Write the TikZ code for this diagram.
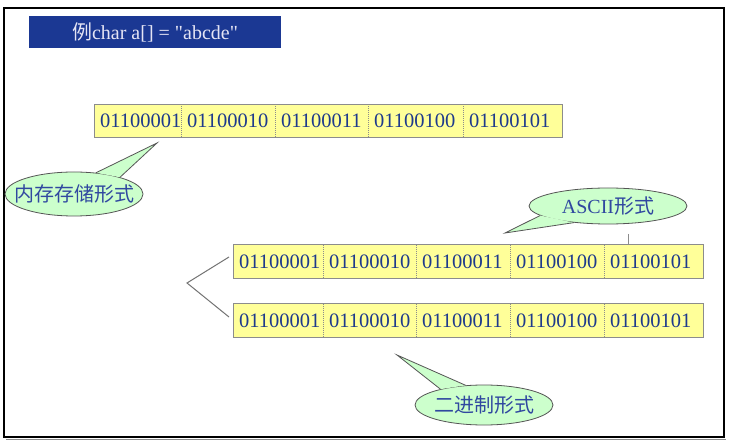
\documentclass[tikz,border=0pt]{standalone}
\usepackage{fontspec}
\setmainfont{Liberation Serif}
\newfontfamily\cjk{Noto Sans CJK SC}
\usetikzlibrary{shapes.geometric,backgrounds}
\definecolor{titlebg}{HTML}{1B3893}
\definecolor{titletx}{HTML}{E4E4F4}
\definecolor{cellfill}{HTML}{FFFF99}
\definecolor{cellline}{HTML}{8C8C8C}
\definecolor{numtx}{HTML}{1E3A8C}
\definecolor{callfill}{HTML}{CCFFCC}
\definecolor{callline}{HTML}{555555}
\definecolor{calltx}{HTML}{3048A0}
\begin{document}
\begin{tikzpicture}[x=1pt,y=-1pt,
  cell/.style={rectangle, fill=cellfill, anchor=west, minimum height=33pt,
    inner xsep=6pt, inner ysep=0pt, align=left,
    font=\fontsize{20.5}{22}\selectfont, text=numtx},
  rowline/.style={draw=cellline, line width=0.8pt},
  divline/.style={draw=cellline, line width=0.5pt, dash pattern=on 1pt off 1pt},
  rowshadow/.style={fill=black!22},
  callout/.style={ellipse, draw=callline, fill=callfill, line width=0.8pt,
    inner sep=0pt, text=calltx, font=\fontsize{20}{22}\selectfont},
  tailfill/.style={fill=callfill},
  tailline/.style={draw=callline, line width=0.8pt, line join=miter},
  branch/.style={draw=black!55, line width=1pt},
  titlebox/.style={rectangle, fill=titlebg, text=titletx, inner sep=0pt,
    minimum width=252pt, minimum height=32pt, font=\fontsize{20}{22}\selectfont}
]
\useasboundingbox (0,0) rectangle (733,443);
\fill[white] (0,0) rectangle (733,443);
% frame
\draw[black!45, line width=1pt] (6,439.5) -- (726,439.5);
\draw[black, line width=1.3pt] (4,8) rectangle (724,437);

% title
\node[titlebox] (title) at (155,32) {{\cjk 例}char a[] = \textquotedbl abcde\textquotedbl};

% top row (memory)
\foreach \i/\x/\w/\t in {1/94/87/01100001, 2/181/94/01100010, 3/275/93/01100011, 4/368/95/01100100, 5/463/99/01100101}{
  \pgfmathsetmacro\tw{\w-12}
  \node[cell, minimum width=\w pt, text width=\tw pt] (a\i) at (\x,121) {\t};
}
% ASCII row
\foreach \i/\x/\w/\t in {1/233/90/01100001, 2/323/93/01100010, 3/416/94/01100011, 4/510/94/01100100, 5/604/99/01100101}{
  \pgfmathsetmacro\tw{\w-12}
  \node[cell, minimum width=\w pt, text width=\tw pt] (b\i) at (\x,261.5) {\t};
}
% binary row
\foreach \i/\x/\w/\t in {1/233/90/01100001, 2/323/93/01100010, 3/416/94/01100011, 4/510/94/01100100, 5/604/99/01100101}{
  \pgfmathsetmacro\tw{\w-12}
  \node[cell, minimum width=\w pt, text width=\tw pt] (c\i) at (\x,320.5) {\t};
}
\begin{scope}[on background layer]
  \foreach \r in {a,b,c}{
    \fill[rowshadow] ([shift={(1.5,1.5)}]\r1.north west) rectangle ([shift={(1.5,1.5)}]\r5.south east);
  }
\end{scope}
\foreach \r in {a,b,c}{
  \draw[rowline] (\r1.north west) rectangle (\r5.south east);
  \foreach \i in {2,...,5}{
    \draw[divline] (\r\i.north west) -- (\r\i.south west);
  }
}

% branch
\coordinate (apex) at (187,283);
\coordinate (bup) at (229,257);
\coordinate (bdn) at (229,317);
\draw[branch] (bup) -- (apex) -- (bdn);

% tick above ASCII row
\coordinate (tick) at (628,234);
\draw[black!45, line width=0.6pt] (tick) -- (tick |- b5.north);

% callout: memory
\node[callout, minimum width=138pt, minimum height=44pt] (mem) at (74,194) {\makebox[0pt]{\cjk 内存存储形式}};
\coordinate (memtip) at (157,143);
\fill[tailfill] (mem.44) -- (memtip) -- (mem.20) -- cycle;
\draw[tailline] (mem.44) -- (memtip) -- (mem.20);

% callout: ASCII
\node[callout, minimum width=158pt, minimum height=36pt] (asc) at (608,206) {\makebox[0pt]{ASCII{\cjk 形式}}};
\coordinate (asctip) at (505,233);
\fill[tailfill] (asc.188) -- (asctip) -- (asc.206) -- cycle;
\draw[tailline] (asc.188) -- (asctip) -- (asc.206);

% callout: binary
\node[callout, minimum width=138pt, minimum height=40pt] (bin) at (484,405) {\makebox[0pt]{\cjk 二进制形式}};
\coordinate (bintip) at (397,355);
\fill[tailfill] (bin.160) -- (bintip) -- (bin.133) -- cycle;
\draw[tailline] (bin.160) -- (bintip) -- (bin.133);
\end{tikzpicture}
\end{document}
